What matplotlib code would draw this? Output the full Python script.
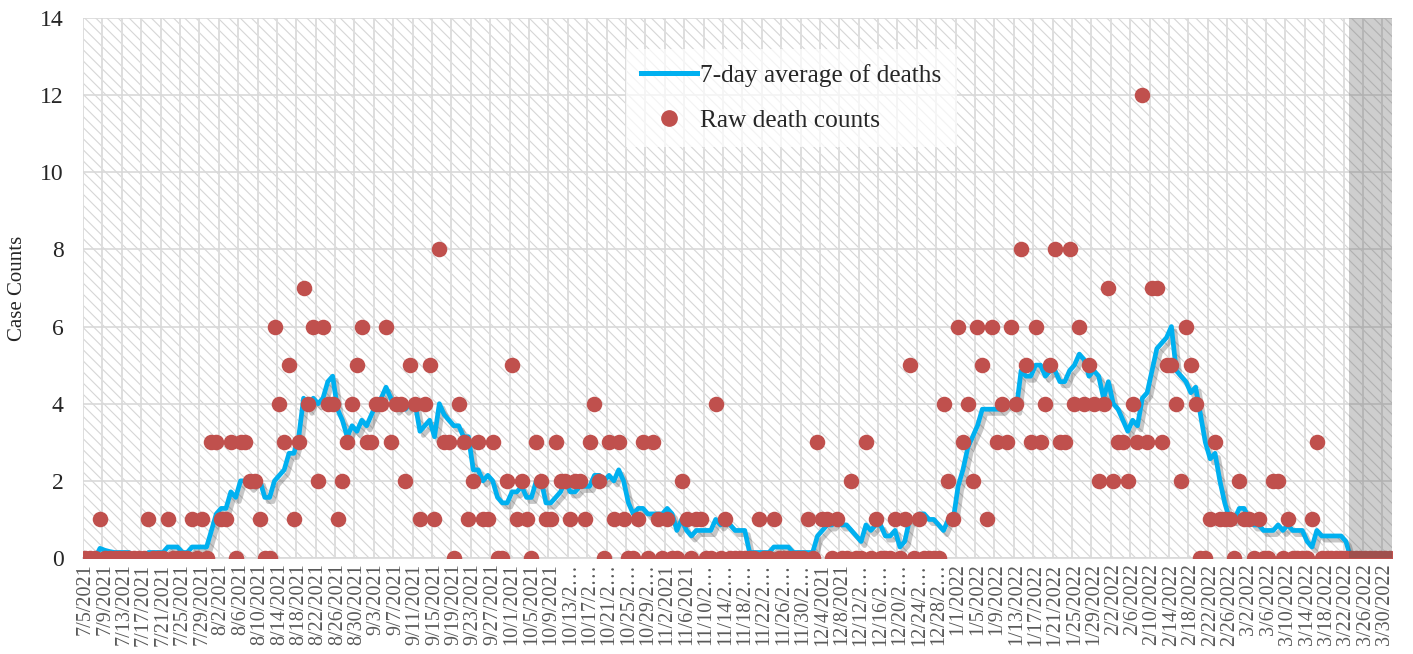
import matplotlib
matplotlib.use('Agg')
import matplotlib.pyplot as plt
import numpy as np
import pandas as pd
from matplotlib.patches import Rectangle
from matplotlib.lines import Line2D
import matplotlib.patheffects as pe

plt.rcParams['font.family'] = ['Liberation Serif', 'DejaVu Serif']
plt.rcParams['hatch.linewidth'] = 0.8

# ---- data -------------------------------------------------------------
start_date = '2021-07-05'
end_date = '2022-03-31'
dates = pd.date_range(start_date, end_date, freq='D')

raw_deaths = [
    0, 0, 0, 1, 0, 0, 0, 0, 0, 0,
    0, 0, 0, 1, 0, 0, 0, 1, 0, 0,
    0, 0, 1, 0, 1, 0, 3, 3, 1, 1,
    3, 0, 3, 3, 2, 2, 1, 0, 0, 6,
    4, 3, 5, 1, 3, 7, 4, 6, 2, 6,
    4, 4, 1, 2, 3, 4, 5, 6, 3, 3,
    4, 4, 6, 3, 4, 4, 2, 5, 4, 1,
    4, 5, 1, 8, 3, 3, 0, 4, 3, 1,
    2, 3, 1, 1, 3, 0, 0, 2, 5, 1,
    2, 1, 0, 3, 2, 1, 1, 3, 2, 2,
    1, 2, 2, 1, 3, 4, 2, 0, 3, 1,
    3, 1, 0, 0, 1, 3, 0, 3, 1, 0,
    1, 0, 0, 2, 1, 0, 1, 1, 0, 0,
    4, 0, 1, 0, 0, 0, 0, 0, 0, 1,
    0, 0, 1, 0, 0, 0, 0, 0, 0, 1,
    0, 3, 1, 1, 0, 1, 0, 0, 2, 0,
    0, 3, 0, 1, 0, 0, 0, 1, 0, 1,
    5, 0, 1, 0, 0, 0, 0, 4, 2, 1,
    6, 3, 4, 2, 6, 5, 1, 6, 3, 4,
    3, 6, 4, 8, 5, 3, 6, 3, 4, 5,
    8, 3, 3, 8, 4, 6, 4, 5, 4, 2,
    4, 7, 2, 3, 3, 2, 4, 3, 12, 3,
    7, 7, 3, 5, 5, 4, 2, 6, 5, 4,
    0, 0, 1, 3, 1, 1, 1, 0, 2, 1,
    1, 0, 1, 0, 0, 2, 2, 0, 1, 0,
    0, 0, 0, 1, 3, 0, 0, 0, 0, 0,
    0, 0, 0, 0, 0, 0, 0, 0, 0, 0,
]

# 7-day (trailing) average of the raw counts, as named in the legend
avg_deaths = pd.Series(raw_deaths, dtype=float).rolling(7, min_periods=1).mean()

tick_every = 4
y_ticks = [0, 2, 4, 6, 8, 10, 12, 14]
shade_start_date = '2022-03-23'


def fmt_date(d):
    s = f"{d.month}/{d.day}/{d.year}"
    return s if len(s) <= 9 else s[:7] + "\u2026"


tick_labels = [fmt_date(d) for d in dates[::tick_every]]

# ---- figure -----------------------------------------------------------
W, H = 1413, 654
fig = plt.figure(figsize=(W / 100, H / 100), dpi=100)
ax = fig.add_axes([83 / W, 1 - 558 / H, 1309 / W, 540 / H])

n = len(dates)
x = np.arange(n)
ax.set_xlim(-0.5, n - 0.5)
ax.set_ylim(0, 14)

ax.patch.set_facecolor('white')
bg = Rectangle((0, 0), 1, 1, transform=ax.transAxes, facecolor='white',
               edgecolor='#d6d6d6', hatch='\\\\\\', lw=0, zorder=0)
ax.add_patch(bg)

# grid
ax.set_yticks(y_ticks)
ax.yaxis.grid(True, color='#d9d9d9', lw=1.2, zorder=1)
ax.set_xticks(x[::tick_every])
ax.set_xticks(np.arange(-0.5, n, tick_every), minor=True)
ax.xaxis.grid(True, which='minor', color='#dedede', lw=1.4, zorder=1)
ax.xaxis.grid(False, which='major')
ax.set_axisbelow(True)

ax.set_xticklabels(tick_labels, rotation=90, fontsize=14.5, color='#595959')
ax.tick_params(axis='x', which='both', length=0, pad=4)
ax.tick_params(axis='y', length=0, labelsize=17, labelcolor='#262626', pad=14)

for s in ['top', 'right', 'left']:
    ax.spines[s].set_visible(False)
ax.spines['bottom'].set_color('#d9d9d9')
ax.spines['bottom'].set_linewidth(1.2)

# 7-day average line with shadow
ax.plot(x, avg_deaths, color='#00B0F0', lw=3.4, zorder=3, solid_joinstyle='round',
        path_effects=[pe.SimpleLineShadow(offset=(2.5, -3), shadow_color='black', alpha=0.22),
                      pe.Normal()])

# raw counts
ax.scatter(x, raw_deaths, s=125, color='#C0504D', zorder=4, linewidths=0)

# shaded final period
shade_idx = list(dates).index(pd.Timestamp(shade_start_date))
ax.axvspan(shade_idx - 0.4, n - 0.5, color='#505050', alpha=0.28, lw=0, zorder=5)

ax.set_ylabel('Case Counts', fontsize=15, color='#262626', labelpad=9)

handles = [Line2D([], [], color='#00B0F0', lw=3.6),
           Line2D([], [], marker='o', ls='none', color='#C0504D', markersize=11)]
leg = ax.legend(handles, ['7-day average of deaths', 'Raw death counts'],
                loc='upper left', bbox_to_anchor=(0.405, 0.966), fontsize=18.3,
                handlelength=2.2, handletextpad=0.12, labelspacing=0.85,
                borderpad=0.6, frameon=True, fancybox=False)
leg.get_frame().set_facecolor('white')
leg.get_frame().set_alpha(0.7)
leg.get_frame().set_edgecolor('none')
leg.set_zorder(6)
for t in leg.get_texts():
    t.set_color('#262626')

fig.savefig('out.png', dpi=100, facecolor='white')
